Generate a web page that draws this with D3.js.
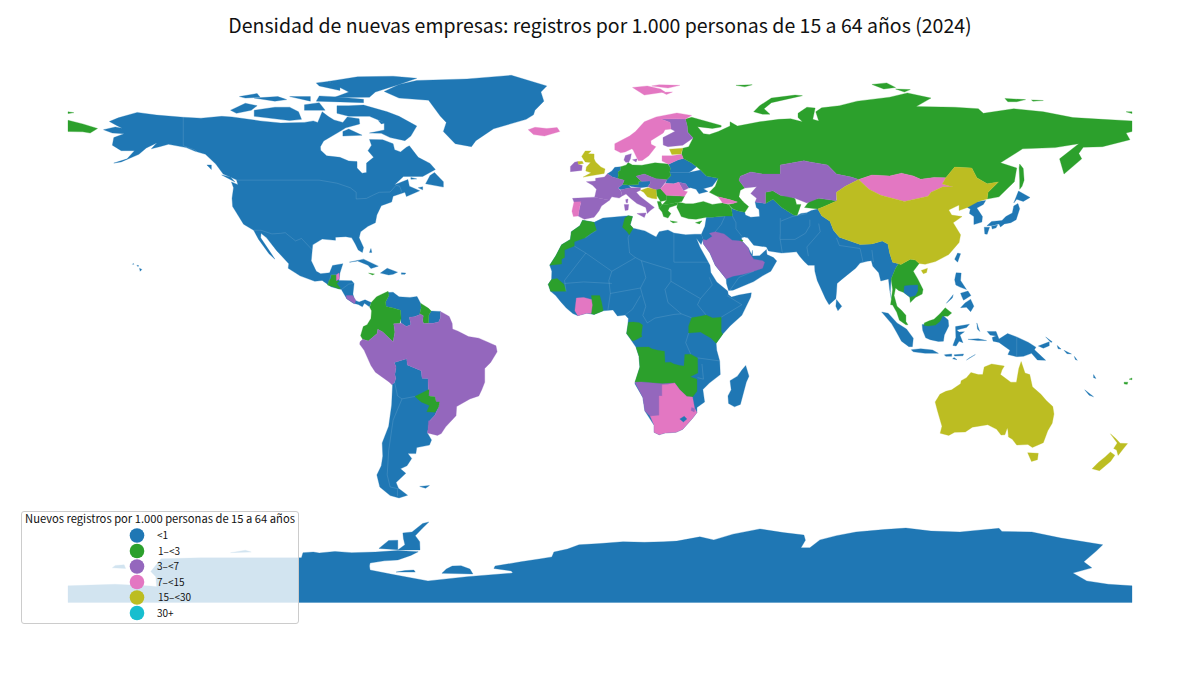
<!DOCTYPE html>
<html>
<head>
<meta charset="utf-8">
<script src="https://cdn.jsdelivr.net/npm/d3@7"></script>
<style>
  html, body { margin: 0; background: #fff; }
  text { font-family: "Noto Sans CJK JP", "Noto Sans", sans-serif; fill: #111; }
</style>
</head>
<body>
<svg id="chart" width="1200" height="675"></svg>
<script>
const chartTitle = "Densidad de nuevas empresas: registros por 1.000 personas de 15 a 64 años (2024)";
const legendTitle = "Nuevos registros por 1.000 personas de 15 a 64 años";
const classLabels = ["<1", "1–<3", "3–<7", "7–<15", "15–<30", "30+"];
const classColors = ["#1f77b4", "#2ca02c", "#9467bd", "#e377c2", "#bcbd22", "#17becf"];

// outlines, "lon,lat lon,lat ...", one list per class
const under1 = [
  // Antarctica
  "-180,-84.5 -164.1,-84 -152,-84.6 -150,-84.8 -150.3,-81.5 -152,-79.8 -148.5,-75.6 -135.3,-75.3 -115,-75.3 -101,-75.3 -100.5,-73.6 -97,-73.4 -95,-73.7 -89.7,-73.2 -84,-73.6 -76,-73.4 -68.4,-72.9 -61.5,-73.3 -64,-74.5 -68.4,-76 -73,-76.3 -77.8,-77 -78,-78 -77.8,-79.3 -70,-80.8 -58.2,-82.9 -45,-81.5 -29.5,-80.3 -30,-79.6 -35.9,-78.8 -35.5,-78 -26.8,-76.6 -20,-75.6 -16.3,-75 -15.6,-73.4 -11,-72.4 -7.1,-71 0,-70.6 7.8,-70 15,-70.2 21.6,-70 26,-69.8 33.8,-68.4 38.5,-69.4 45,-67.5 54.1,-65.8 62,-67 69,-67.8 69.5,-69.5 68,-72 71,-72 74.4,-69.4 80,-68 86.6,-66.8 96,-66 103.5,-65.5 112,-66.5 121.8,-66.8 128,-66.2 135,-65.6 136,-66.6 146.1,-66.8 156,-68.8 170.1,-71 168,-73 163.7,-76.6 166.4,-78.6 160,-80.3 164.7,-82.9 172,-84 180,-84.5 180,-90 -180,-90",
  "-68.4,-72.7 -60.9,-72.7 -61,-70 -62.5,-68 -60,-65.5 -57.9,-63.5 -60,-64 -63.6,-66.8 -66.7,-67.1 -66.5,-69 -66,-71",
  "-74.8,-72.2 -68.4,-72.6 -68.4,-69.5 -71.5,-69.6",
  "-53.5,-80.4 -43,-80.6 -44,-79 -47,-77.9 -50,-78 -52,-79",
  "-69,-80 -62.5,-80 -63,-79.3 -66,-79.5",
  "-165,-78.6 -160.5,-78.8 -161,-77.6 -164,-77.8",
  "-125,-73.6 -118,-73.4 -120,-72.8",
  // North America down to Panama
  "-168,65.6 -164,66.5 -161.7,66.1 -163.7,67.1 -166,68.3 -163,69.5 -156.6,71.3 -150,70.4 -141,69.7 -135,69.4 -128,70 -124.5,69.8 -115,68.5 -108,67.8 -100,68 -97,68.5 -95.5,68 -94,71.5 -92,70 -90,68.8 -87,68 -85.5,69.8 -81.5,69.2 -81.3,67.5 -86,66.2 -87.5,65.3 -90.5,63.6 -93.5,61.9 -94.6,60 -94.5,58.8 -92.5,57 -88,56.5 -85,55.3 -82.2,55.1 -82.2,53 -80.5,51.3 -79,51.5 -79,54.6 -76.6,56.5 -78.5,58.7 -77.3,60.5 -78,62.4 -73.5,62.3 -70,61 -69.5,59 -67.5,58.3 -65.5,59.8 -64.5,60.3 -61.5,56.5 -57.5,54.5 -55.7,52.5 -60,50.2 -66.5,50.2 -69.5,47.5 -65,49.2 -64.5,47 -61,45.5 -65.5,43.6 -66,45 -70,43.7 -70.5,41.8 -74,40.6 -75.5,37.5 -76,35 -78.5,33.8 -81,32 -81.5,30 -80,26.8 -80.4,25.2 -81.8,26 -82.8,28 -84,30 -86,30.4 -89.5,30.2 -89.5,29.2 -94,29.6 -97.2,27.7 -97.7,22.5 -96,19 -94.5,18.2 -91.5,18.5 -90.5,20.9 -87,21.5 -88,18.4 -88.3,16 -84,15.9 -83.2,15 -83.6,11.5 -83,9.5 -81.5,8.9 -79.5,9.6 -77.4,8.7 -78,7.3 -79.7,8.5 -80.4,7.3 -81.8,8.1 -83.5,8.5 -85.7,10 -87.5,13 -91,13.9 -94,16 -96.5,15.7 -101.5,17.5 -105.5,20 -105.3,21.5 -109.4,25.8 -112.8,30 -114.7,31.5 -114.8,30 -111,24.5 -110,23 -112,24.8 -115.5,29.5 -117.2,32.5 -120.6,34.5 -124.3,40.3 -124.5,43 -124,46.5 -124.7,48.4 -122.5,47.5 -123,49.1 -127.5,51 -130,54.3 -133.5,57.5 -137,58.5 -140,59.7 -146,60.8 -149,60 -151.8,59.3 -150,61.2 -153.5,59.6 -156,57.5 -162,55 -164.5,54.6 -160,56 -157.5,58.7 -162,58.7 -165,60.5 -164.5,63 -161,64.3 -165,64.5",
  // Canadian islands and Greenland
  "-80,73.7 -72,71.5 -68,70 -62,66.8 -64,63.5 -66,62 -71,63 -74,64.4 -78,64.5 -73,65.5 -73,68 -78,70 -85,70 -89,71 -89,73.5 -85,73.5",
  "-117,70 -105,68.6 -101,69 -102,71.5 -105,73 -110,73 -117,72",
  "-125,72 -120,74.3 -116,73.5 -118,72 -123,71",
  "-117,76 -110,75 -106,75.5 -109,76.5",
  "-90,76.2 -78,76.3 -76,78 -68,80.5 -62,82.5 -70,83.2 -82,83 -92,81.5 -88,79.5 -85,78",
  "-96,75 -80,74.5 -80,75.6 -89,76.4 -95,76.7",
  "-100,72 -93,72 -95,74.5 -100,73.8",
  "-95,80 -88,78.5 -88,80 -92,81.5 -96,81",
  "-87,63.5 -80.5,63.8 -85,65.8 -87,65",
  "-59,47.8 -53,46.7 -53,48.5 -56,51.5 -57.5,50.5",
  "-128,50.7 -123.5,48.4 -125,50",
  "-133,54 -131.5,54 -131.5,52.5",
  "-64,49.9 -62,49.4 -64,49.3",
  "-61.5,46.5 -60,46.8 -60,45.8",
  "-75,68.6 -72,68 -74,67.5",
  "-105,76.5 -98,75 -98,76.5",
  "-120,76 -115,76.3 -116,77.5 -122,76.5",
  "-73,78.2 -68,76 -58,75.3 -54,70 -52,68 -53,65 -49,61 -43.5,60 -42,62 -36,65.9 -25,69 -22.5,70.5 -22,72 -19,75 -20,78 -18,80 -30,83.5 -45,82.3 -62,81.8 -68,80.5",
  "-84.8,22 -80,23 -75,20.7 -77.5,19.9 -78.5,21 -82,22.4",
  "-74.3,18.4 -72,20 -68.5,18.7 -70,18 -71.5,17.8",
  "-67.2,18.5 -65.7,18.4 -66,18 -67.2,18",
  "-78,25.2 -77.5,26.5 -77.2,25.2",
  "-155.8,20 -155,19.6 -155.6,19",
  "-157.9,21.6 -157.7,21.3 -158.2,21.3",
  "-156.7,21 -156,20.8 -156.4,20.6",
  // South America
  "-70.4,-18.3 -69.5,-17.5 -69.1,-16.2 -69.4,-15 -69,-12.5 -69.6,-11 -65.4,-9.8 -65.2,-11.8 -60.5,-13.7 -60.2,-16.2 -58.2,-16.3 -58.1,-20 -57.8,-22 -54.6,-25.6 -55.8,-28.3 -57.6,-30.2 -58.4,-34.2 -57,-36.5 -57.7,-38.2 -62,-39 -62.3,-41 -65,-41 -63.7,-42.6 -65.3,-45 -67.5,-46 -65.7,-47.5 -69,-50.5 -68.2,-52.4 -65.1,-54.7 -68,-55.6 -71,-54.8 -74.5,-52 -75.5,-48 -74,-45 -73.5,-41.8 -73.7,-37.5 -71.5,-32 -70.5,-25 -70.2,-18.5",
  "-71.4,11 -71.9,12 -70,12.1 -68,10.6 -64.3,10.4 -61.9,10.7 -60.7,8.5 -60.5,7 -61,5 -60.7,4.9 -62.8,4 -64.5,3.9 -64,1.5 -65.5,0.8 -67.3,2 -67.5,6.2 -70,6.9 -72.4,7.4 -72.5,9",
  "-57.1,5.9 -54,5.8 -54,3.6 -54.6,2.3 -56.5,1.9 -58,1.9 -57.9,4.6",
  "-61,-51.8 -57.7,-51.5 -59,-52.4",
  // Africa
  "-5.9,35.8 -2,35.1 1,36.5 9.8,37.3 11,37 10.2,34.3 11.2,33.2 15.2,32.3 19,30.3 20,32 23,32.6 25,31.6 29,31 32,31.2 34.3,31.2 34.9,29.5 34.2,27.8 32.6,29.9 33.8,27 35.5,24 37.2,21 37.5,18.6 39.5,15.5 43.2,12.5 43.4,11.4 44.5,10.5 47,11.2 51.2,11.9 51,10.5 48,4.5 44,1 41.5,-1.7 39.3,-4.7 39.5,-7 40.5,-10.5 40.7,-15 37,-17.8 34.8,-19.9 35.4,-24 32.8,-25.8 32.8,-27.5 31.3,-29.4 28,-33 25.7,-34 22,-34.2 20,-34.8 18.3,-34 18.3,-31.7 15.2,-27 14.5,-22.5 11.8,-18 13.5,-12.5 13.2,-9 12.2,-6 9,-1.5 9.4,1 9.6,3.5 8.5,4.6 5.9,4.3 4.4,6.3 1.1,6 -2,4.8 -4.5,5.2 -7.5,4.4 -9.2,5.1 -11.4,6.9 -13.3,9 -15,11 -16.7,12.4 -17.5,14.7 -16.4,16.3 -16.3,19 -17,21 -15,24 -13,27.7 -10,29.5 -9.7,32 -6.8,34",
  "49.3,-12 50.4,-15.5 49.5,-17.5 47.5,-24.8 45.5,-25.6 43.5,-24.5 43.3,-22 44.4,-20 44,-17 46.5,-15.5 48,-13.5",
  // Europe
  "2.5,51.1 4.2,50 6,49.5 6.2,50.5 6.1,51.7 7,52.3 7,53.4 5,53.2 4,52",
  "9.6,47.4 13,47.6 13,48.5 14,48.6 16.9,48.7 17,48 16.2,46.8 13.7,46.5 10.5,46.9",
  "6.1,46.4 7,45.8 10.4,46.5 9.6,47.4 7.6,47.6",
  "24,50.5 23.6,51.5 30,51.5 34,52.3 36,50.4 40,49.6 38,47 35,46.2 36.5,45.3 33.5,44.5 32.5,46 30.7,46.5 30,46.4 29,47.8 26.6,48.3 24.9,47.8 22.2,48 22.6,49.1",
  "23.8,53 23.2,54.2 26.5,55.7 28.2,56.1 31,54.6 32.7,53.4 31,52.1 30,51.5 23.6,51.5",
  // Asia from the Levant to Myanmar, with Arabia
  "36,36.8 38,36.8 42.3,37.2 44.8,37.2 44.5,39.7 46.5,38.9 49,38.4 49.2,37.5 51,36.8 54,37 53.8,39.3 52.9,40 52.5,41.8 56,41.3 58.5,42.7 61.5,40 65.5,37.5 66.7,37.4 68,38 70,38.3 71.5,39 73.7,39.5 75,37.3 77.8,35.5 79,32.5 81,30.2 88,27.8 92,28 95.5,29 97.4,28 98,25 99,22 101,21.5 100,20 98.5,16.5 98.2,12 98.6,10 98,13 97.6,16.5 95,15.8 94.3,18.5 92.3,20.7 91.8,22.5 90.4,22.3 88,21.7 86.5,20 82,16.5 80.2,15 80,12 79.8,10 77.5,8 76.3,10 73.5,16 72.7,19 72.6,21 70.4,21 69,22.3 67.5,24 66.5,25.4 61.5,25 57,25.7 56.3,27 52,27.6 50,30 48.8,30.3 47.9,30 48,29 48.5,28.5 50.2,26.7 51.3,24.5 51.6,25.9 51.6,24 54,24.1 56.3,26.2 56.5,24.5 58.7,23.5 59.8,22.4 57.8,19 55,17.5 52,15.6 45,12.8 43.5,12.7 42.8,15 42.7,16.5 39,21 37.2,25 35,28 34.9,29.5 34.3,31.2 35.5,33.8",
  "80,9.7 81.8,7.5 80.5,6 79.8,7.5",
  // East and South-East Asia
  "124.3,40 126,41.7 128,42 130.5,42.3 129.7,41 127.5,39.8 129.4,37 129.2,35.2 126.5,34.4 126.5,37 125,38 125.3,39.5",
  "130.9,34 132.5,35.4 136,35.7 137.3,37 139.5,38.2 140,40.5 141.4,41.3 142,39.6 140.8,36 139,35 136.8,34.6 135.5,33.6 135,34.6 132.5,34",
  "130,33.5 131.8,33.5 131,31.2 130.2,31.3",
  "132.5,33.8 134.5,34.2 134,33.3 132.7,32.9",
  "140,41.5 141.6,45.4 145.5,43.3 143.2,42 141,42.7",
  "121,25 122,24.8 121,22 120,23",
  "95.3,5.6 97.5,5.2 100.5,2 103.7,0 106,-3 105.7,-5.8 104.5,-5.8 102,-4 100.3,-1 98.7,1.7",
  "105.3,-6.8 108.5,-6.5 112.5,-6.9 114.5,-8 110,-8 106,-7.5",
  "109,1.5 109.1,0.3 109.2,-0.5 110.2,-2.9 111.7,-3.5 114.5,-4.1 116.2,-4 116.5,-2 117.5,0 118,1 117.8,3 116,4.5 113,2 110,1.5",
  "119.4,-5.4 120.4,-2.8 120.3,0.8 125,1.6 124,0.5 120.7,-0.3 121.5,-1 123.3,-0.9 121.8,-2 122.8,-4.5 121.5,-4 120.5,-5.6",
  "116.5,-8.5 119,-8.2 119,-9 117,-9",
  "119.8,-8.5 123,-8.2 122.8,-8.8 120,-8.9",
  "124,-10.2 127,-8.4 125.2,-9.4",
  "119.8,-9.4 120.8,-10.1 119.3,-9.8",
  "120.5,18.5 122.2,18.4 122,16 124,13 121.8,13.8 120.4,14.5 120,16.2",
  "122,7 123.5,8.6 125.4,9.8 126.5,7.5 125.4,5.7 124,7.2",
  "122,11.8 124.5,12.5 125.5,11 123,9.5 122.5,10.5",
  "117.2,8.5 119.5,11.3 119.2,10.2",
  "124.5,-3.4 128,-3.2 130.8,-3.8 127.8,-3.8",
  "127.5,2 128,0.5 128.5,-0.8 127.7,0",
  "131,-0.8 134,-0.8 135,-3.3 137.9,-1.5 141,-2.6 145,-4.4 147.5,-6 147,-6.8 150.8,-10.3 148,-10.2 146,-8 143.3,-9 141,-9.1 138,-8.4 138.7,-7 135,-4.4 133,-4 132.7,-2.8 134,-2.3 132,-2",
  "148.3,-5.6 152,-4.2 152,-5.5 150,-6.3",
  "150.8,-2.6 153,-4.2 152.6,-4.4",
  "154.7,-5.4 156,-6.6 155,-6.5",
  "157,-7 159.5,-8.2 158,-8.1",
  "160.5,-9 161.5,-10.3 160.8,-10",
  "167,-15 167.8,-16.3 167,-16",
  "164,-20 167,-22.3 165.5,-21.8"
];

const from1to3 = [
  // Russia
  "31,69.7 41,67 41,66.5 38,66 33,66.6 35,64.3 37,64 40,65 44,66.8 44,68.2 46.5,66.8 54,68.2 60.5,69 64.5,69.2 68.5,68.2 67,69.6 67,71 70,73 72.8,72.7 72,69 74,68.5 73,71.5 75,72.8 81,73.5 87,75 98,76.3 104,77.7 112,76 107,73.2 120,73 128,72.5 129.7,71 140,72.5 150,71.5 160,69.6 170,69 180,68.5 180,65 178,64.5 179.3,62.3 170,60 163.5,59.8 162,57.8 163,56 157,51 155.5,56 162,61 154,59.7 143,59.3 135.5,54.7 141,53 140.2,48.5 135,43.5 131,42.8 131.3,45 134.8,48.4 131,47.8 127.5,49.8 125.8,53 120,53.3 117,49.8 113,49.9 108.5,49.3 106,50.4 102,51.3 98,50.4 92,50.7 87.5,49.2 85,50 80,51 77,54 71,55 69,55.4 61,54 61,51 55,51 51,51.7 47.5,50.3 47,49 49,46.4 47.5,45.7 47,43.5 48.5,41.8 46.5,41.8 43.8,42.6 40,43.5 37,45 39,47 40,49.6 36,50.4 34,52.3 32.7,53.4 31,54.6 28.2,56.1 27.6,57.5 28,59.5 30,60 31.5,62.9 29.7,64.8 29.5,66.9 28.9,69.1",
  "-180,68.7 -175,67.5 -170,66 -172.5,64.5 -175,64.9 -180,65",
  "-180,71.5 -178,71.2 -180,70.9",
  "178,71.5 180,71.5 180,70.9",
  "52,71.5 55,70.7 57.5,70.7 55.5,72.5 58,74.5 68.5,76.8 66,77 58,76 54,73.5",
  "92,80.5 97,81 100,79.5 96,79",
  "100,79 105,78.8 103,78",
  "46,80.2 51.5,80.4 49,79.7",
  "137,75.9 144,75.5 141,74.8 138,74.8",
  "146,75.4 150,75.2 146.5,75",
  "142,54.3 143.2,52.8 143.5,49 142.8,47 142,46 142,49 141.8,53",
  // Central America, Colombia and Ecuador, Guyana
  "-92.2,14.5 -90,13.8 -88.2,13.2 -87.8,13.4 -89.1,15 -88.3,15.7 -89.2,15.9 -89.2,17.8 -91,17.8 -90.9,16.8 -91.7,16",
  "-78.3,18.4 -76.3,18.1 -77,17.8",
  "-77.4,8.7 -75.6,10.6 -74.2,11.3 -71.7,12.4 -71.4,11 -72.5,9 -72.4,7.4 -70,6.9 -67.5,6.2 -67.3,3.5 -67.8,1.8 -69.8,1.7 -69.4,-1 -70,-4.2 -72,-2.4 -73.5,-1 -75.2,-0.1 -75.4,-1.5 -77,-2.8 -78.4,-3.9 -80.3,-3.4 -81,-2.2 -80.1,0.8 -78.8,1.4 -77.5,3.5 -77.3,6 -77.9,7.2",
  "-60.7,8.5 -58,6.8 -57.1,5.9 -57.9,4.6 -58,1.9 -59.7,1.8 -60,2.7 -59.8,4.4 -61,5 -60.5,7",
  // Africa
  "-5.9,35.8 -2,35.1 -1.2,32.5 -3,31.5 -5,30 -8.7,28.7 -8.7,27.3 -12,26 -12,23.5 -13,23 -13,21.4 -17,21 -15,24 -13,27.7 -10,29.5 -9.7,32 -6.8,34",
  "9.5,37.3 11,37 10.2,34.3 11.2,33.2 9.9,31 9.2,32 7.6,33.5 8.4,36.5",
  "-16.4,16.3 -14.5,16.6 -12.2,14.7 -11.5,12.4 -16.7,12.4 -17.5,14.7",
  "-2.9,11 -0.1,11 0.5,9 1.1,6 -2,4.8 -3,5.1 -2.6,7.9",
  "9.6,2.2 11.3,2.3 13.3,2.1 14.4,1.3 14,-1.9 14.2,-2.5 11.8,-3.7 11,-3.9 9,-1.5 9.4,1",
  "30,1 31,3.7 34,4.2 35.9,4.6 38.1,3.6 41,3.9 41,-0.8 41.5,-1.7 39.3,-4.7 37.6,-3 34,-1 30,-1.3",
  "12.2,-6 13.2,-9 13.5,-12.5 11.8,-17.5 14,-17.4 21,-18 25.3,-17.8 27,-20 29.4,-22.2 31.3,-22.4 32.8,-20.5 32.8,-16.5 30.5,-15.7 33.1,-14.5 33,-9.5 30.7,-8.3 28.7,-8.4 28.4,-12.2 27,-12 25,-11.5 23.9,-10.9 22,-11 21.8,-7.3 19.5,-7 17.5,-6.5 16.5,-5.9",
  // Europe and the Near East
  "7,53.4 8.9,54 9.5,54.8 11,54 14.2,53.9 18.6,54.7 23,54.3 23.8,53 23.6,51.5 24,50.5 22.6,49.1 19,49.4 15,51 12.2,50.3 14,48.6 13,48.5 13,47.6 9.6,47.4 7.6,47.6 8.2,49 6,49.5 6.2,50.5 6.1,51.7 7,52.3",
  "19,46 20.5,46.2 22.4,44.5 22.5,42.4 20.5,42 19.2,44",
  "19.4,42 20.5,42 21,40.8 20,39.7",
  "20,39.7 21,40.8 24,41.2 26.3,41.7 26,40.8 23.5,40 23,38.9 24,38 23,36.5 21.5,37 21,38.5",
  "22.5,42.4 22.4,44 28.6,43.7 27.7,42 26.3,41.7 24,41.2 21,40.8",
  "26.3,41.7 26,40 26.8,38.5 27.5,37 30,36.3 32.5,36.1 36,36.8 38,36.8 42.3,37.2 44.8,37.2 44.5,39.7 43.5,41 41.5,41.5 38,41 35,42 31.5,41.2 29,41.2 28,41.5",
  "32.3,35 34.5,35.6 33.7,34.6",
  "23.7,35.6 26.2,35.2 24.7,34.9",
  "43.5,41 45,41.3 46.5,41.8 48.5,41.8 50.3,40.3 49,38.4 46.5,38.9 44.8,39.7",
  "47.7,29.4 48.4,29.2 48,28.6 47.2,28.9",
  // Central Asia
  "56,45 58.5,45.5 61,44 64.5,43.7 66,42.9 66.5,41 68,41 66.7,37.4 65.5,37.5 61.5,40 58.5,42.7 56,41.3",
  "69.2,40 71,42.3 74,43 80.2,42.2 76,40.4 73.7,39.5",
  // Mainland and peninsular South-East Asia
  "101,21.5 101.8,21.2 105,23 106.7,22.7 108,21.6 106,19 107.5,16.5 109.3,13 109,11.5 106.7,10.4 105,8.7 104.8,10.5 102.8,12 101,12.7 100,13.5 99.5,11 100.5,7.5 102,6.2 103.5,4.5 103.5,2.5 104.2,1.4 103.5,1.4 101.3,2.9 100.4,5.5 99,7.9 98.3,8 98.6,10 99,13 98.5,16.5 100,20",
  "109.7,2 111.4,2.7 113,3.2 115,5 116.8,7 119,5.3 117.7,4.2 115.9,4.3 115,2.5 113.5,1.3 111,1 109.7,1.2",
  // Fiji
  "177.3,-17.5 178.6,-17.5 178.4,-18.2 177.4,-18.1",
  "179,-16.5 180,-16.1 180,-16.7"
];

const from3to7 = [
  // Brazil, Peru, French Guiana and Uruguay
  "-54,5.8 -52,4.7 -51,4.1 -50,1.8 -49.9,0 -48,-0.7 -44.5,-2.5 -41,-3 -37.5,-4.5 -35.2,-5.5 -34.8,-7.5 -37,-11 -39,-13 -39,-17.5 -40,-20 -41,-22 -44,-23 -48.5,-25.5 -48.7,-28.5 -52.2,-32.2 -53.7,-34.4 -55,-35 -58.4,-34.2 -58.2,-33 -58,-30.2 -57.6,-30.2 -55.8,-28.3 -54.6,-25.6 -54.3,-24 -55.4,-24 -55.9,-22.3 -58,-22 -57.8,-20 -58.1,-20 -58.2,-16.3 -60.2,-16.2 -60.5,-13.7 -65.2,-11.8 -65.4,-9.8 -69.6,-11 -69,-12.5 -69.4,-15 -69.1,-16.2 -69.5,-17.5 -70.4,-18.3 -71.4,-17.4 -76,-14.2 -77.5,-12 -79.8,-7 -81.3,-5 -81.2,-4.2 -80.3,-3.4 -78.4,-3.9 -77,-2.8 -75.4,-1.5 -75.2,-0.1 -73.5,-1 -72,-2.4 -70,-4.2 -69.4,-1 -69.8,1.7 -67.8,1.8 -67.3,2 -65.5,0.8 -64,1.5 -64.5,3.9 -62.8,4 -60.7,4.9 -61,5 -59.8,4.4 -60,2.7 -59.7,1.8 -58,1.9 -56.5,1.9 -54.6,2.3 -54,3.6",
  "-85.9,11 -83.7,11 -82.6,9.5 -83,8.3 -85.7,10",
  // Namibia
  "11.8,-17.5 14,-17.4 21,-18 25.3,-17.8 23,-18.2 21,-18.3 21,-22 20,-22 20,-28.4 17,-28.7 15.2,-27 14.5,-22.5",
  // Europe
  "-10,51.8 -6.2,52.2 -6,53.8 -7.3,54.2 -7.5,55.1 -8.6,54.9 -10,53.5",
  "-9.3,43 -1.8,43.4 3.2,42.4 0.5,40.5 -0.3,38.9 -2,36.8 -5.3,36.1 -7.4,37.2 -7,39.5 -6.5,41.5 -8.8,41.8",
  "-1.8,43.4 3.2,42.4 4,43.5 6.5,43.1 7.5,43.8 7,45.5 6.1,46.4 7.6,47.6 8.2,49 6,49.5 4.2,50 2.5,51.1 1.5,50 -1.5,49.6 -1.5,48.7 -4.6,48.5 -2.5,47.3 -1.2,46",
  "8.7,42.6 9.5,42.8 9.3,41.5 8.8,41.6",
  "12.2,50.3 15,51 18.8,49.5 22.6,49.1 22.2,48.4 20.5,46.2 18.5,45.8 16.2,46.8 17,48 16.9,48.7 14,48.6",
  "7,45.8 7.5,43.8 8.8,44.4 10.5,42.9 12.5,41.3 15.5,40 16,38 17,39 18.4,40 16,41.8 13.5,43.7 12.3,45 13.7,45.7 13.7,46.5 10.4,46.5",
  "12.5,38 15.6,38.2 15,36.7",
  "8.2,41 9.7,41 9.5,39.2 8.5,39",
  "8.1,55.6 8.6,57.1 10.6,57.7 10.3,56 9.7,54.9 8.7,54.9",
  "11,55.7 12.6,56 12.2,55",
  "21.4,60.6 23,60 28,60.5 31.5,62.9 29.7,64.8 29.5,66.9 28.9,69.1 25.5,69.2 20.6,69.1 23.7,68 24,65.8 25.4,65.1 21.3,63",
  "26.6,48.3 29,47.8 30,46.4 28.2,45.5",
  // Kazakhstan
  "47,49 47.5,50.3 51,51.7 55,51 61,51 61,54 69,55.4 71,55 77,54 80,51 85,50 87.5,49.2 83,47 80,45 80,42.2 74,43 70,41.5 66,43 61,44 58.5,45.5 56,45 56,41.3 52.5,41.8 53,43 51,44.6 53,46.8 49,46.4",
  // Saudi Arabia
  "37,31.5 39,32 42,31.3 44.7,29.2 47.5,29 48.5,28.5 50.2,26.7 50.8,24.7 52,23 55,22.5 55.7,22 55,20 52,19 48.5,18 45,17.4 43.2,16.7 42.7,16.5 39,21 37.2,25 35,28 34.9,29.5 36,29.2 38,30.5"
];

const from7to15 = [
  "-89.2,17.9 -88.3,18.4 -88.2,16.5 -89.2,15.9",
  "-8.8,41.8 -6.5,41.9 -7,39.5 -7.4,37.2 -9,37 -9.5,38.8",
  "-8,10.2 -5.5,10.4 -2.9,9.7 -2.6,7.9 -3,5.1 -4.5,5.2 -7.5,4.4 -8.5,6",
  // Botswana and South Africa
  "21,-18.3 23,-18.2 25.3,-17.8 27,-20 29.4,-22.2 31.3,-22.4 32,-26 32.8,-27.5 31.3,-29.4 28,-33 25.7,-34 22,-34.2 20,-34.8 18.3,-34 18.3,-31.7 17,-28.7 20,-28.4 20,-22 21,-22",
  // Nordic and Baltic countries
  "5,61 5,59 7,58 8.5,58.3 10.8,59.3 11.2,58.9 12.5,56.3 13,55.4 14.3,55.5 16.5,57 18.9,60 17.3,60.8 17.2,62 21.4,64.5 22,65.6 24,65.8 23.7,68 20.6,69.1 25.5,69.2 28.9,69.1 31,70.3 26,71.1 19,69.8 15,68.2 12,65 10,63.5",
  "21,55.3 21,57 24.3,57 27.6,57.5 28.2,56.1 26.5,55.7 23.2,54.2",
  "-24.3,65.6 -22,66.4 -18,66 -14.5,66.3 -13.6,65 -18.8,63.5 -22.5,64",
  "11,79.5 15,77 22,78 20.5,79 16,80",
  "17.5,80 23,79.3 27,80.2 20,80.4",
  "21,77.9 24.5,78 22.5,77.2",
  "20.5,46.2 22.2,48 24.9,47.8 26.6,48.3 28.2,45.5 29.6,45.2 28.6,43.7 22.4,44",
  "40,43.5 43.8,42.6 46.5,41.8 45,41.3 43,41.2 41.5,41.5",
  // Mongolia
  "87.5,49.2 92,50.7 98,50.4 102,51.3 106,50.4 108.5,49.3 113,49.9 117,49.8 115.8,47.7 119.5,46.7 116,46.8 112,45 111,43.7 103,42 95,44 91,46"
];

const from15to30 = [
  "-5.7,50 1.4,51.2 1.7,52.7 0.3,53.3 -1.5,55 -2,56 -2,57.6 -4,57.7 -3,58.6 -5,58.6 -6.2,56.8 -5,55 -3.2,54.8 -4.6,53.3 -4.8,52 -3,51.4",
  "-7.5,55.1 -6,55.2 -5.6,54.5 -7.3,54.2",
  "23.5,59.2 28,59.5 27.4,57.6 24.3,57.4",
  "13.7,45.6 16.2,46.5 19,45.8 19,45 19.2,44 19.2,42.8 17.5,43 16,43.5 14.8,45",
  // China
  "73.7,39.5 76,40.4 80.2,42.2 80,45 83,47 87.5,49.2 91,46 95,44 103,42 111,43.7 112,45 116,46.8 119.5,46.7 115.8,47.7 117,49.8 120,53.3 125.8,53 127.5,49.8 131,47.8 134.8,48.4 131.3,45 131,42.8 128,42 124.3,40 121.5,39 121.5,40.8 118,39.2 119,37.5 122.5,37 119.5,35 122,31 121.5,28.5 118,24.5 113.5,22.2 110,21.3 108,21.6 106.7,22.7 105,23 101.8,21.2 101,21.5 99,22 98,25 97.4,28 95.5,29 92,28 88,27.8 81,30.2 79,32.5 77.8,35.5 75,37.3",
  "108.7,19.3 110.8,20 110.5,18.6 109.4,18.2",
  // Australia
  "113.4,-24 115,-21.5 117,-20.5 119,-20 122,-18 122.2,-17 124,-16 125.5,-14.3 128,-15 129.5,-15 130,-12.5 132.5,-11.5 136.8,-12.2 136,-13.5 135.5,-15 139,-17.5 140.9,-17.5 141.7,-13 142.5,-10.7 143.8,-14.5 145.4,-15 146.3,-19 149.2,-21.5 151,-23.5 153.2,-25.5 153.6,-28 153,-31 151.5,-33.5 150,-37.4 146.3,-39 144.8,-38 141,-38.2 139.5,-36.3 138.2,-35.5 138,-33.2 137.8,-32.6 137,-34.8 135.7,-34.9 134.2,-33 131.2,-31.5 126,-32.3 123.6,-33.9 120,-34 118,-35 115.1,-34.3 115.7,-32 114.2,-27",
  "144.7,-40.7 148.3,-40.9 148,-43 146,-43.6",
  "172.7,-34.5 174.5,-36 176,-37.6 178.5,-37.7 177,-39.5 175.3,-41.6 174.8,-39.8 173.8,-39.3 175,-37.5",
  "172.7,-40.5 174.2,-41.5 172.8,-43.5 171,-45 169,-46.6 166.5,-46 168.5,-44 171,-42"
];

// shapes that sit inside a neighbour of a higher class, drawn last
const enclaveClasses = [1, 0, 0, 2];
const enclaves = [
  "-58.1,-20 -62.6,-22.2 -60.5,-24 -57.7,-25.2 -58.6,-27.2 -55.8,-27.4 -54.6,-25.6 -54.3,-24 -55.4,-24 -55.9,-22.3 -58,-22 -57.8,-20",
  "27,-29.6 28.5,-28.7 29.4,-29.6 28.2,-30.6",
  "102.8,12 104.8,10.5 106.7,11 107.5,12.5 107.5,14.5 105,14.4 103,14.2",
  "31,-25.8 32.1,-26.2 31.9,-27.3 30.8,-26.8"
];

// thin lines between countries of the same colour
const borderLines = [
  "-141,69.7 -141,60.3 -137,58.9 -133,55",
  "-123,49 -95,49 -89,48 -84.5,46.5 -82.5,45 -82.5,42.8 -79,43 -76.5,44.2 -74.7,45 -71,45.1 -69,47.3 -67.8,47 -67,45",
  "-117.1,32.5 -114.7,32.5 -111,31.3 -108,31.5 -106.5,31.7 -103,29 -101,29.8 -97.2,25.9",
  "-92,14.6 -91,17.8 -89.2,17.9",
  "-87.5,13 -85,14.8 -83.2,15",
  "-69.5,-17.5 -68.5,-22 -67,-23 -70,-30 -71.5,-40 -72,-48 -71,-52 -68.5,-52.5 -68.5,-55",
  "-67,-23 -62.6,-22.2",
  "-8.7,27.3 -4.8,25 -12,16 -11.5,12.4",
  "-1.2,32.5 -5,30",
  "9.9,31 9.5,30 10,25 12,23.5 14,22.5 24,19.5",
  "25,31.6 25,22 36.9,22",
  "24,19.5 24,15.7 22,13 23,8.7 27.5,5 31,3.7",
  "4,19 3,16 3.5,11.7 2.7,6.3",
  "-4.8,25 4,19 12,23.5",
  "14,22.5 15.5,16.9 13.7,13.5 14.7,10 15.5,7.5 14.5,4.5 16,2",
  "3.5,11.7 13.7,13.5",
  "8.5,4.6 11,6.5 13.7,11",
  "24,15.7 34,10 33,8 35.9,4.6",
  "37,17 38,14.5 34,10",
  "43,11 48,8 41,3.9",
  "27.5,5 25,4.8 18.6,3.6 16,2",
  "30,-1.3 29,-4.5 30.7,-8.3",
  "33,-9.5 40.5,-10.5",
  "34.5,-11.5 35,-16.5 33,-16",
  "-12,15 -5.5,15.5 4,15",
  "44.8,37.2 46,35 46,33 48,30.5",
  "42.3,37.2 41,34.4 39,32",
  "61,36.5 61,31.5 60.9,29.8 61.7,25",
  "61.2,35.5 65,37 70,38",
  "71,36 71,34 69.5,31.5 66,29.5 61,29.5",
  "74,34.7 74.5,32 70,27 70.5,24",
  "80,30 81,27.5 88,26.5",
  "88,26.5 89,22",
  "92,26 92.5,22",
  "141,-2.6 141,-9.1",
  "44,12.8 47,17 52,19"
];

const layerClasses = [0, 1, 2, 3, 4];
const layers = [under1, from1to3, from3to7, from7to15, from15to30];

const parseRing = s => s.split(" ").map(p => p.split(",").map(Number));
const closeRing = r => r.concat([r[0]]);

const width = 1200;
const height = 675;
const svg = d3.select("#chart");

// plain lon/lat to pixel scales
const xScale = d3.scaleLinear().domain([-180, 180]).range([68, 1132]);
const yScale = d3.scaleLinear().domain([-90, 83.6]).range([602.5, 75]);
const projection = d3.geoTransform({
  point(x, y) { this.stream.point(xScale(x), yScale(y)); }
});
const path = d3.geoPath(projection);

const color = d3.scaleOrdinal().domain(d3.range(classLabels.length)).range(classColors);

const shapes = [];
layers.forEach((rings, i) => {
  rings.forEach(r => shapes.push({ cls: layerClasses[i], ring: r }));
});
enclaves.forEach((r, i) => shapes.push({ cls: enclaveClasses[i], ring: r }));

svg.append("g")
  .selectAll("path")
  .data(shapes)
  .join("path")
    .attr("d", d => path({ type: "Polygon", coordinates: [closeRing(parseRing(d.ring))] }))
    .attr("fill", d => color(d.cls))
    .attr("stroke", d => color(d.cls))
    .attr("stroke-width", 0.3);

svg.append("g")
  .selectAll("path")
  .data(borderLines)
  .join("path")
    .attr("d", d => path({ type: "LineString", coordinates: parseRing(d) }))
    .attr("fill", "none")
    .attr("stroke", "#fff")
    .attr("stroke-opacity", 0.2)
    .attr("stroke-width", 0.6);

svg.append("text")
  .attr("x", width / 2)
  .attr("y", 33)
  .attr("text-anchor", "middle")
  .style("font-size", "19.5px")
  .text(chartTitle);

// legend
const legend = svg.append("g");
legend.append("rect")
  .attr("x", 21.5)
  .attr("y", 511.5)
  .attr("width", 277)
  .attr("height", 112)
  .attr("rx", 2.5)
  .attr("fill", "#fff")
  .attr("fill-opacity", 0.8)
  .attr("stroke", "#ccc")
  .attr("stroke-width", 1);

legend.append("text")
  .attr("x", 160)
  .attr("y", 523)
  .attr("text-anchor", "middle")
  .style("font-size", "11.2px")
  .text(legendTitle);

const legendY = d3.scalePoint().domain(classLabels).range([535.5, 613]);
const labelX = d3.scaleOrdinal().domain(classLabels).range([157, 158, 157, 157, 158, 157]);

legend.selectAll("circle")
  .data(classLabels)
  .join("circle")
    .attr("cx", 137)
    .attr("cy", d => legendY(d))
    .attr("r", 7.3)
    .attr("fill", (d, i) => color(i));

legend.selectAll("text.item")
  .data(classLabels)
  .join("text")
    .attr("class", "item")
    .attr("x", d => labelX(d))
    .attr("y", d => legendY(d) + 3.5)
    .style("font-size", "10px")
    .text(d => d);
</script>
</body>
</html>
